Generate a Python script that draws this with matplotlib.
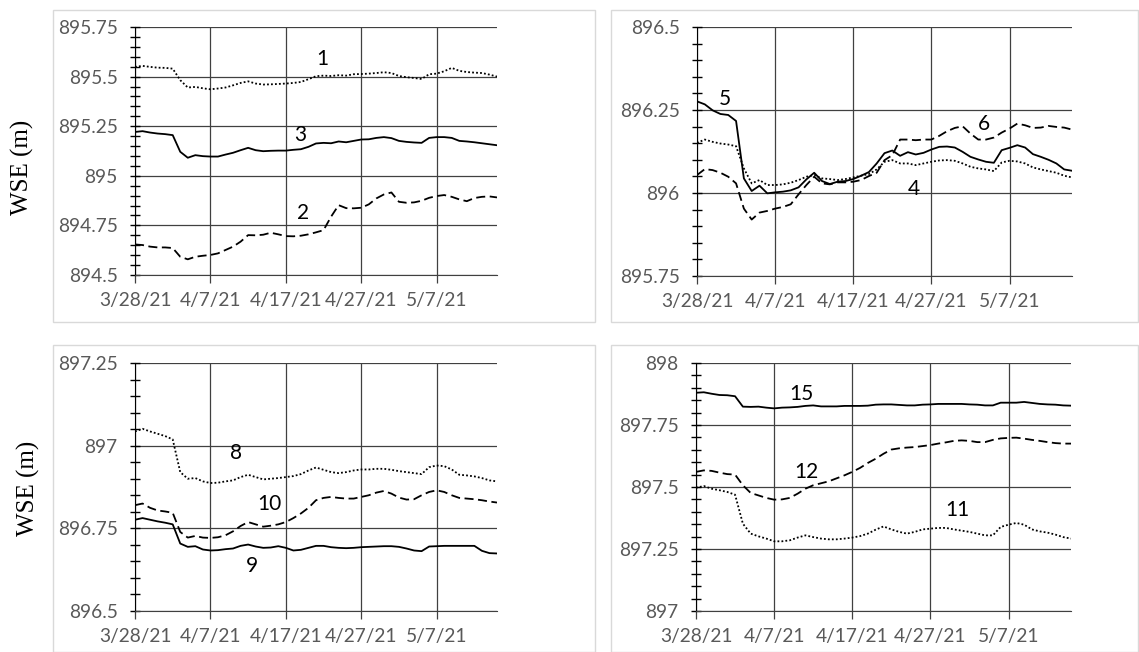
import numpy as np
import pandas as pd
import matplotlib
matplotlib.use("Agg")
import matplotlib.pyplot as plt
from matplotlib.patches import Rectangle
from matplotlib.ticker import MultipleLocator, FuncFormatter

plt.rcParams['font.family'] = ['Lato', 'DejaVu Sans']

dates = pd.date_range("2021-03-28", periods=49, freq="D")
tick_dates = pd.to_datetime(["2021-03-28", "2021-04-07", "2021-04-17", "2021-04-27", "2021-05-07"])
tick_labels = ["3/28/21", "4/7/21", "4/17/21", "4/27/21", "5/7/21"]

# panel 1
wse_1 = [895.549, 895.554, 895.549, 895.545, 895.544, 895.540, 895.482, 895.445, 895.448, 895.441,
         895.436, 895.440, 895.445, 895.456, 895.468, 895.476, 895.465, 895.460, 895.461, 895.463,
         895.465, 895.468, 895.473, 895.487, 895.502, 895.505, 895.503, 895.507, 895.505, 895.512,
         895.513, 895.515, 895.518, 895.522, 895.518, 895.503, 895.497, 895.493, 895.488, 895.512,
         895.515, 895.527, 895.544, 895.529, 895.523, 895.520, 895.518, 895.510, 895.500]
wse_3 = [895.221, 895.225, 895.218, 895.213, 895.210, 895.205, 895.121, 895.091, 895.104, 895.099,
         895.097, 895.097, 895.107, 895.116, 895.129, 895.141, 895.129, 895.124, 895.126, 895.127,
         895.127, 895.131, 895.134, 895.146, 895.163, 895.166, 895.164, 895.173, 895.169, 895.176,
         895.183, 895.184, 895.191, 895.195, 895.190, 895.176, 895.171, 895.168, 895.166, 895.191,
         895.195, 895.195, 895.191, 895.176, 895.173, 895.169, 895.164, 895.159, 895.154]
wse_2 = [894.654, 894.651, 894.643, 894.639, 894.639, 894.636, 894.592, 894.579, 894.592, 894.597,
         894.601, 894.609, 894.626, 894.643, 894.668, 894.701, 894.700, 894.703, 894.713, 894.705,
         894.696, 894.695, 894.698, 894.705, 894.715, 894.726, 894.794, 894.852, 894.837, 894.836,
         894.839, 894.856, 894.886, 894.906, 894.916, 894.869, 894.864, 894.866, 894.874, 894.889,
         894.898, 894.903, 894.894, 894.881, 894.872, 894.888, 894.894, 894.896, 894.891]

# panel 2
wse_5 = [896.276, 896.267, 896.249, 896.238, 896.235, 896.217, 896.044, 896.006, 896.022, 895.999,
         896.002, 896.004, 896.008, 896.017, 896.041, 896.061, 896.036, 896.027, 896.034, 896.036,
         896.042, 896.052, 896.063, 896.089, 896.120, 896.128, 896.112, 896.123, 896.116, 896.121,
         896.131, 896.139, 896.140, 896.137, 896.124, 896.109, 896.101, 896.094, 896.091, 896.129,
         896.136, 896.144, 896.137, 896.117, 896.109, 896.100, 896.089, 896.071, 896.067]
wse_4 = [896.151, 896.161, 896.154, 896.149, 896.146, 896.141, 896.074, 896.029, 896.039, 896.024,
         896.024, 896.026, 896.031, 896.039, 896.049, 896.054, 896.044, 896.042, 896.039, 896.042,
         896.047, 896.052, 896.057, 896.071, 896.094, 896.099, 896.089, 896.089, 896.084, 896.089,
         896.094, 896.098, 896.099, 896.097, 896.089, 896.079, 896.074, 896.071, 896.066, 896.092,
         896.097, 896.095, 896.089, 896.077, 896.071, 896.066, 896.061, 896.052, 896.047]
wse_6 = [896.054, 896.072, 896.069, 896.061, 896.049, 896.029, 895.953, 895.920, 895.941, 895.946,
         895.953, 895.958, 895.966, 895.996, 896.024, 896.049, 896.029, 896.026, 896.032, 896.032,
         896.034, 896.039, 896.051, 896.061, 896.099, 896.114, 896.161, 896.161, 896.159, 896.161,
         896.161, 896.172, 896.186, 896.196, 896.201, 896.179, 896.161, 896.161, 896.167, 896.182,
         896.194, 896.209, 896.204, 896.196, 896.197, 896.202, 896.199, 896.197, 896.191]

# panel 3
wse_8 = [897.043, 897.051, 897.043, 897.036, 897.029, 897.019, 896.920, 896.900, 896.902, 896.892,
         896.887, 896.888, 896.892, 896.895, 896.905, 896.912, 896.905, 896.898, 896.900, 896.902,
         896.905, 896.908, 896.914, 896.925, 896.934, 896.927, 896.920, 896.917, 896.920, 896.925,
         896.928, 896.928, 896.930, 896.930, 896.927, 896.923, 896.920, 896.917, 896.914, 896.935,
         896.940, 896.938, 896.928, 896.912, 896.910, 896.907, 896.902, 896.895, 896.892]
wse_10 = [896.820, 896.825, 896.812, 896.804, 896.801, 896.797, 896.739, 896.722, 896.727, 896.722,
          896.721, 896.723, 896.729, 896.741, 896.757, 896.769, 896.762, 896.755, 896.758, 896.762,
          896.769, 896.781, 896.795, 896.812, 896.835, 896.842, 896.845, 896.842, 896.840, 896.840,
          896.845, 896.850, 896.858, 896.863, 896.855, 896.843, 896.837, 896.838, 896.850, 896.860,
          896.865, 896.860, 896.850, 896.842, 896.840, 896.838, 896.835, 896.831, 896.828]
wse_9 = [896.776, 896.781, 896.776, 896.771, 896.767, 896.762, 896.704, 896.694, 896.696, 896.686,
         896.683, 896.684, 896.687, 896.689, 896.697, 896.701, 896.695, 896.691, 896.692, 896.696,
         896.691, 896.683, 896.685, 896.691, 896.697, 896.697, 896.693, 896.691, 896.690, 896.691,
         896.693, 896.694, 896.695, 896.696, 896.696, 896.694, 896.689, 896.683, 896.681, 896.695,
         896.696, 896.697, 896.697, 896.697, 896.697, 896.697, 896.682, 896.675, 896.674]

# panel 4
wse_15 = [897.880, 897.882, 897.876, 897.871, 897.870, 897.866, 897.824, 897.823, 897.824, 897.820,
          897.817, 897.820, 897.821, 897.823, 897.827, 897.829, 897.825, 897.825, 897.825, 897.827,
          897.827, 897.827, 897.828, 897.832, 897.833, 897.833, 897.831, 897.829, 897.829, 897.832,
          897.833, 897.835, 897.835, 897.835, 897.835, 897.833, 897.832, 897.829, 897.829, 897.840,
          897.840, 897.840, 897.843, 897.839, 897.835, 897.833, 897.832, 897.829, 897.828]
wse_12 = [897.561, 897.567, 897.565, 897.558, 897.552, 897.550, 897.507, 897.476, 897.466, 897.456,
          897.449, 897.450, 897.456, 897.473, 897.493, 897.507, 897.515, 897.523, 897.535, 897.547,
          897.561, 897.577, 897.597, 897.614, 897.634, 897.651, 897.656, 897.659, 897.661, 897.665,
          897.669, 897.675, 897.680, 897.686, 897.688, 897.686, 897.681, 897.681, 897.690, 897.696,
          897.698, 897.699, 897.695, 897.690, 897.686, 897.681, 897.677, 897.675, 897.675]
wse_11 = [897.497, 897.504, 897.493, 897.487, 897.480, 897.469, 897.352, 897.312, 897.301, 897.292,
          897.281, 897.281, 897.285, 897.296, 897.305, 897.298, 897.292, 897.289, 897.289, 897.292,
          897.296, 897.302, 897.312, 897.328, 897.341, 897.329, 897.319, 897.312, 897.319, 897.329,
          897.332, 897.335, 897.335, 897.329, 897.324, 897.319, 897.312, 897.305, 897.305, 897.339,
          897.348, 897.355, 897.348, 897.329, 897.321, 897.316, 897.308, 897.298, 897.292]

SOLID = '-'
DOT = (0, (1, 1.2))
DASH = (0, (5, 2.5))

# (series, style, label text, label day, label value)
panels = [
    dict(ylim=(894.5, 895.75),
         series=[(wse_1, DOT, "1", 24.8, 895.59), (wse_3, SOLID, "3", 21.9, 895.205),
                 (wse_2, DASH, "2", 22.3, 894.814)]),
    dict(ylim=(895.75, 896.5),
         series=[(wse_4, DOT, "4", 27.7, 896.013), (wse_6, DASH, "6", 36.7, 896.209),
                 (wse_5, SOLID, "5", 3.6, 896.284)]),
    dict(ylim=(896.5, 897.25),
         series=[(wse_8, DOT, "8", 13.4, 896.979), (wse_10, DASH, "10", 17.8, 896.825),
                 (wse_9, SOLID, "9", 15.5, 896.636)]),
    dict(ylim=(897.0, 898.0),
         series=[(wse_15, SOLID, "15", 13.5, 897.876), (wse_12, DASH, "12", 14.1, 897.56),
                 (wse_11, DOT, "11", 33.5, 897.406)]),
]

W, H = 1139, 652
fig = plt.figure(figsize=(W / 100, H / 100), dpi=100)

# axes boxes in pixels: left, top, right, bottom
ax_px = [(135, 27, 497, 275), (697, 27, 1072, 276), (135, 363, 497, 611), (696, 363, 1071, 611)]
frame_px = [(53, 10, 595, 322), (611, 10, 1138, 322), (53, 345, 595, 652), (611, 345, 1138, 652)]
ylabel_px = [(22, 167), None, (28, 488), None]

grid_c = '#404040'
x0 = dates[0]
x1 = dates[0] + pd.Timedelta(days=48)

for i, p in enumerate(panels):
    fl, ft, fr, fb = frame_px[i]
    fig.patches.append(Rectangle((fl / W, 1 - fb / H), (fr - fl) / W, (fb - ft) / H,
                                 transform=fig.transFigure, fill=False,
                                 edgecolor='#d9d9d9', linewidth=1.0))
    l, t, r, b = ax_px[i]
    ax = fig.add_axes([l / W, 1 - b / H, (r - l) / W, (b - t) / H])
    for vals, ls, lab, lx, ly in p['series']:
        ax.plot(dates, vals, color='black', linestyle=ls, linewidth=1.3)
        ax.text(dates[0] + pd.Timedelta(days=lx), ly, lab, fontsize=15,
                color='black', ha='center', va='center')
    ax.set_xlim(x0, x1)
    ax.set_ylim(*p['ylim'])
    ax.yaxis.set_major_locator(MultipleLocator(0.25))
    ax.yaxis.set_minor_locator(MultipleLocator(0.05))
    ax.yaxis.set_major_formatter(FuncFormatter(lambda v, pos: f"{v:g}"))
    ax.set_xticks(tick_dates)
    ax.set_xticklabels(tick_labels)
    ax.grid(True, axis='both', which='major', color=grid_c, linewidth=0.9)
    ax.set_axisbelow(True)
    for s in ['top', 'right']:
        ax.spines[s].set_visible(False)
    ax.spines['left'].set_color('black')
    ax.spines['bottom'].set_color(grid_c)
    ax.tick_params(axis='y', which='major', direction='inout', length=7, width=1,
                   color='black', labelsize=13.8, labelcolor='#595959', pad=9)
    ax.tick_params(axis='y', which='minor', direction='inout', length=7, width=1, color='black')
    ax.tick_params(axis='x', which='major', direction='out', length=6, width=0.9,
                   color=grid_c, labelsize=13.8, labelcolor='#595959', pad=6)
    if ylabel_px[i] is not None:
        lx, ly = ylabel_px[i]
        fig.text(lx / W, 1 - ly / H, "WSE (m)", rotation=90, ha='center', va='center',
                 fontsize=18, family=['Liberation Serif', 'DejaVu Serif'], color='black')

fig.savefig("out.png", dpi=100)
